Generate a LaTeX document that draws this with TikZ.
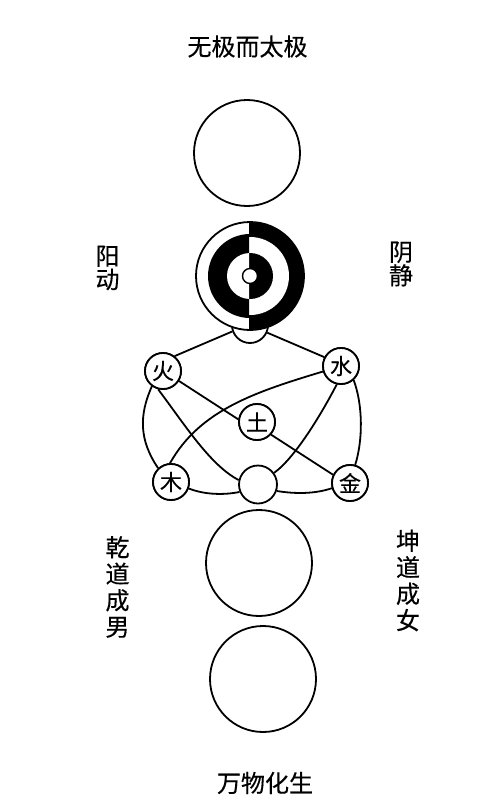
\documentclass[tikz,border=0pt]{standalone}
\usepackage{fontspec}
\setmainfont{Noto Sans CJK SC}
\newfontfamily\cjkm{Noto Sans CJK SC}[FakeBold=0.3]
\begin{document}
\begin{tikzpicture}[x=1pt,y=-1pt,
  ln/.style={line width=1.8pt},
  ring/.style={circle,draw,line width=1.8pt,fill=white,inner sep=0pt},
  big/.style={ring,minimum size=106pt},
  elem/.style={ring,minimum size=36pt,font=\cjkm\fontsize{22}{22}\selectfont},
  lbl/.style={inner sep=0pt,align=center,font=\cjkm\fontsize{24}{26.5}\selectfont},
  lblb/.style={inner sep=0pt,align=center,font=\cjkm\fontsize{24}{23.5}\selectfont}]
\useasboundingbox (0,0) rectangle (500,808);
\fill[white] (0,0) rectangle (500,808);

% texts
\node[lbl] (title) at (247.5,46.5) {无极而太极};
\node[lblb] (yang) at (107.5,268) {阳\\动};
\node[lblb] (yin) at (401,264) {阴\\静};
\node[lbl] (qian) at (117.5,587) {乾\\道\\成\\男};
\node[lbl] (kun) at (408,580.5) {坤\\道\\成\\女};
\node[lbl] (wanwu) at (265,783) {万物化生};

% wuji circle
\node[big] (wuji) at (247,153) {};

% link circle under the taiji
\node[ring,minimum size=36pt] (link) at (250,325) {};

% taiji
\node[circle,minimum size=108pt,inner sep=0pt] (taiji) at (250,276) {};
\fill[white] (taiji.center) circle[radius=54pt];
\begin{scope}
  \clip (249,200) rectangle (320,350);
  \fill[black] (taiji.center) circle[radius=54pt];
  \fill[white] (taiji.center) circle[radius=39pt];
  \fill[black] (taiji.center) circle[radius=23pt];
\end{scope}
\begin{scope}
  \clip (180,200) rectangle (249,350);
  \fill[black] (taiji.center) circle[radius=42pt];
  \fill[white] (taiji.center) circle[radius=23pt];
\end{scope}
\draw[ln] (taiji.center) circle[radius=54pt];
\node[circle,draw,fill=white,line width=1.4pt,minimum size=15pt,inner sep=0pt] (core) at (taiji.center) {};

% five elements
\node[elem] (huo) at (163,371) {};
\node[elem] (shui) at (341,366) {};
\node[elem] (tu) at (257,422) {};
\node[elem] (mu) at (171,482) {};
\node[elem] (jin) at (350,483) {};
\node[ring,minimum size=38pt] (di) at (258,484.5) {};

% connectors
\draw[ln] (link.200) -- (huo.52);
\draw[ln] (link.336) -- (shui.152);
\draw[ln] (huo.328) -- (tu.172);
\draw[ln] (tu.318) -- (jin.154);
\draw[ln] (shui.197) .. controls (255,392) and (200,410) .. (mu.93);
\draw[ln] (huo.255) .. controls (185,425) and (210,465) .. (di.167);
\draw[ln] (shui.257) .. controls (322,413) and (295,458) .. (di.36);
\draw[ln] (huo.234) .. controls (139,415) and (139,440) .. (mu.133);
\draw[ln] (shui.312) .. controls (363,405) and (363,440) .. (jin.74);
\draw[ln] (mu.340) .. controls (205,495) and (225,495) .. (di.202);
\draw[ln] (jin.196) .. controls (315,494) and (295,494) .. (di.341);

% element labels (redrawn on top)
\node[elem] at (huo) {火};
\node[elem] at (shui) {水};
\node[elem] at (tu) {土};
\node[elem] at (mu) {木};
\node[elem] at (jin) {金};

% lower circles
\node[big] (qiankun) at (259,563) {};
\node[big] (wanwuc) at (263,679) {};
\end{tikzpicture}
\end{document}
